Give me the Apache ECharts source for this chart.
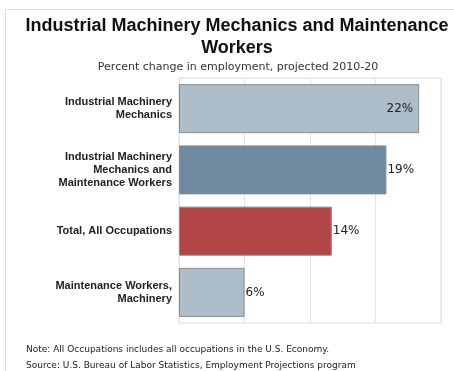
<!DOCTYPE html>
<html>
<head>
<meta charset="utf-8">
<script src="https://cdn.jsdelivr.net/npm/echarts@6/dist/echarts.min.js"></script>
<style>
  html, body { margin: 0; padding: 0; background: #fff; }
  #chart { width: 454px; height: 371px; }
</style>
</head>
<body>
<div id="chart"></div>
<script>
// Occupation categories, top to bottom
const categories = [
  'Industrial Machinery\nMechanics',
  'Industrial Machinery\nMechanics and\nMaintenance Workers',
  'Total, All Occupations',
  'Maintenance Workers,\nMachinery'
];
// Projected percent change in employment, 2010-20
const values = [22, 19, 14, 6];
// Axis range and gridline step (percent)
const axisMax = 24;
const axisStep = 6;

const barColors = ['#adbdc9', '#6f8a9f', '#b24545', '#adbdc9'];

const chart = echarts.init(document.getElementById('chart'), null, { renderer: 'canvas' });

chart.setOption({
  backgroundColor: '#fff',
  animation: false,
  title: [
    {
      text: 'Industrial Machinery Mechanics and Maintenance\nWorkers',
      left: 237, top: 15, textAlign: 'center', padding: 0,
      textStyle: { fontFamily: 'Liberation Sans', fontSize: 18, fontWeight: 'bold', color: '#111', lineHeight: 22 }
    },
    {
      text: 'Percent change in employment, projected 2010-20',
      left: 238, top: 62, textAlign: 'center', padding: 0,
      textStyle: { fontFamily: 'DejaVu Sans', fontSize: 11, fontWeight: 'normal', color: '#333' }
    }
  ],
  grid: { left: 179, top: 78, width: 262, height: 245, show: true, borderColor: '#dcdcdc', borderWidth: 1, containLabel: false },
  xAxis: {
    type: 'value', min: 0, max: axisMax, interval: axisStep,
    axisLabel: { show: false }, axisLine: { show: false }, axisTick: { show: false },
    splitLine: { lineStyle: { color: '#e4e4e4', width: 1 } }
  },
  yAxis: {
    type: 'category', data: categories, inverse: true,
    axisLine: { show: false }, axisTick: { show: false },
    axisLabel: {
      margin: 7, align: 'right',
      fontFamily: 'Liberation Sans', fontSize: 11, fontWeight: 'bold', color: '#222', lineHeight: 13
    }
  },
  series: [{
    type: 'bar',
    barCategoryGap: '20%',
    data: values.map((v, i) => ({
      value: v,
      itemStyle: { color: barColors[i] },
      label: i === 0 ? { position: 'insideRight', distance: 6 } : { position: 'right', distance: 1 }
    })),
    itemStyle: { borderColor: '#8a8a8a', borderWidth: 1 },
    label: {
      show: true,
      formatter: p => p.value + '%',
      fontFamily: 'DejaVu Sans', fontSize: 12, color: '#222'
    }
  }],
  graphic: [
    {
      type: 'rect', silent: true, z: -1,
      shape: { x: 5.5, y: 9.5, width: 460, height: 400 },
      style: { fill: 'none', stroke: '#dddddd', lineWidth: 1 }
    },
    {
      type: 'text', left: 26, top: 345,
      style: { text: 'Note: All Occupations includes all occupations in the U.S. Economy.', fontFamily: 'DejaVu Sans', fontSize: 9, fill: '#222' }
    },
    {
      type: 'text', left: 26, top: 361,
      style: { text: 'Source: U.S. Bureau of Labor Statistics, Employment Projections program', fontFamily: 'DejaVu Sans', fontSize: 9, fill: '#222' }
    }
  ]
});
</script>
</body>
</html>
